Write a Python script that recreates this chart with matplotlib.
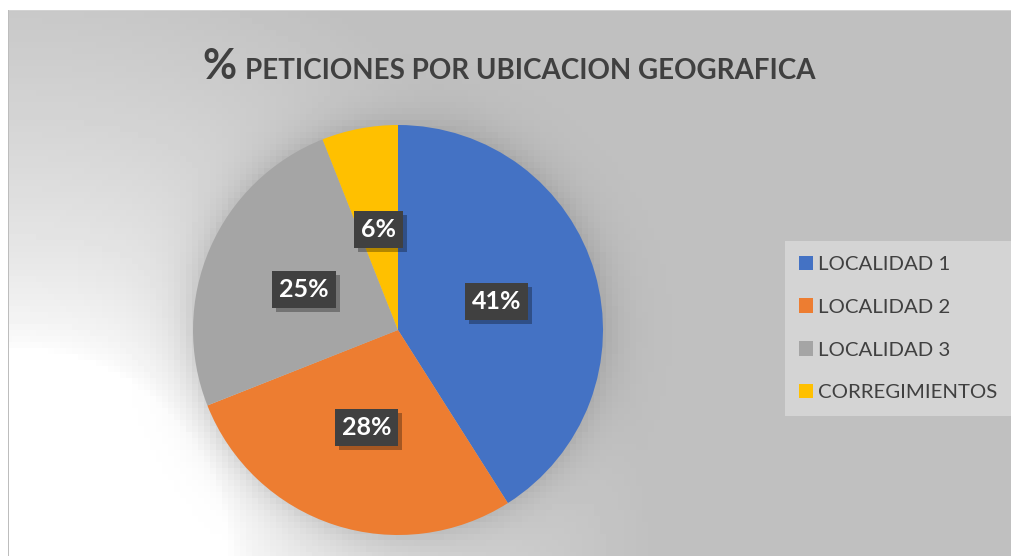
import numpy as np
import matplotlib.pyplot as plt
from matplotlib import patheffects

labels = ['LOCALIDAD 1', 'LOCALIDAD 2', 'LOCALIDAD 3', 'CORREGIMIENTOS']
values = [41, 28, 25, 6]
colors = ['#4472C4', '#ED7D31', '#A5A5A5', '#FFC000']
title_main = 'PETICIONES POR UBICACION GEOGRAFICA'

W, H, DPI = 1012, 556, 100
plt.rcParams['font.family'] = ['Lato', 'DejaVu Sans']
TXT = '#404040'

fig = plt.figure(figsize=(W / DPI, H / DPI), dpi=DPI)

# pie geometry in pixels (from top-left)
cx, cy, r = 398, 330, 205

# background: gray plot area, white glow in the lower-left corner,
# soft shadow around the pie (computed on coarse blocks)
blk = 6
ys, xs = np.mgrid[0:H:blk, 0:W:blk] + blk / 2
d_corner = np.hypot(xs - 20, ys - 560)
t = np.clip((d_corner - 210) / 420, 0, 1) ** 0.65
level = 255 - t * (255 - 192)
d_pie = np.clip(np.hypot(xs - cx, ys - cy) - r, 0, None)
level = level * (1 - 0.12 * np.exp(-d_pie / 20))
img = np.repeat(np.repeat(level, blk, 0), blk, 1)[:H, :W]
img[:10, :] = 255
img[:, :8] = 255
img[10, 8:] = 210
img[10:, 8] = 189

bg = fig.add_axes([0, 0, 1, 1])
bg.imshow(img, cmap='gray', vmin=0, vmax=255, interpolation='nearest', aspect='auto')
bg.axis('off')

ax = fig.add_axes([(cx - r) / W, (H - cy - r) / H, 2 * r / W, 2 * r / H])
wedges, _, autotexts = ax.pie(values, colors=colors, startangle=90, counterclock=False,
                              autopct='%.0f%%', pctdistance=0.5,
                              wedgeprops=dict(linewidth=0))
ax.set_xlim(-1, 1)
ax.set_ylim(-1, 1)
ax.set_aspect('equal')
ax.axis('off')

for at in autotexts:
    at.set(color='white', fontsize=18, fontweight='bold')
    at.set_bbox(dict(boxstyle='square,pad=0.28', fc='#404040', ec='none'))
    at.get_bbox_patch().set_path_effects([
        patheffects.SimplePatchShadow(offset=(3, -3), shadow_rgbFace='black', alpha=0.3),
        patheffects.Normal()])

# title: large percent sign followed by the bold caption
renderer = fig.canvas.get_renderer()
ty = 1 - 79 / H
tmain = fig.text(245 / W, ty, title_main, fontsize=18, fontweight='bold',
                 color=TXT, ha='left', va='baseline')
wpx = tmain.get_window_extent(renderer).width
tmain.set_fontsize(18 * 570 / wpx)
fig.text(237 / W, ty, '%', fontsize=30, fontweight='bold', color=TXT,
         ha='right', va='baseline')

leg = fig.legend(wedges, labels, loc='center', bbox_to_anchor=(898 / W, 1 - 328.5 / H),
                 fontsize=14.7, labelcolor=TXT, frameon=True, fancybox=False,
                 facecolor='#d4d4d4', edgecolor='none', framealpha=1,
                 handlelength=0.7, handleheight=0.7, handletextpad=0.2,
                 labelspacing=1.25, borderpad=0.7)

fig.savefig('out.png', dpi=DPI)
